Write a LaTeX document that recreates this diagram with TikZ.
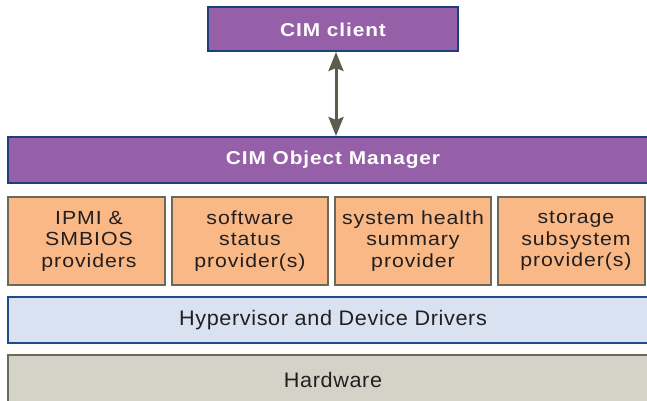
\documentclass[tikz,border=0pt]{standalone}
\usepackage{fontspec}
\setmainfont{Liberation Sans}
\newfontfamily\widesans[FakeStretch=1.12,LetterSpace=5]{Liberation Sans}
\newfontfamily\layersans[FakeStretch=1.03,LetterSpace=3]{Liberation Sans}
\usetikzlibrary{arrows.meta}
\definecolor{cimfill}{HTML}{9560A8}
\definecolor{cimedge}{HTML}{1D3F7A}
\definecolor{provfill}{HTML}{F9B886}
\definecolor{provedge}{HTML}{6A6A58}
\definecolor{hypfill}{HTML}{D9E2F1}
\definecolor{hypedge}{HTML}{1F4C88}
\definecolor{hwfill}{HTML}{D3D3C7}
\definecolor{hwedge}{HTML}{6A6A58}
\definecolor{arrowcol}{HTML}{5C5D4C}
\definecolor{textcol}{HTML}{231F20}
\begin{document}
\begin{tikzpicture}[x=1pt,y=-1pt,
  cimbox/.style={draw=cimedge,fill=cimfill,line width=1.8pt},
  cimtext/.style={text=white,font=\widesans\fontsize{18.6}{21}\selectfont\bfseries},
  provbox/.style={draw=provedge,fill=provfill,line width=1.8pt},
  provtext/.style={text=textcol,align=center,font=\widesans\fontsize{19}{21.5}\selectfont},
  hypbox/.style={draw=hypedge,fill=hypfill,line width=1.8pt},
  hwbox/.style={draw=hwedge,fill=hwfill,line width=1.8pt},
  layertext/.style={text=textcol,font=\layersans\fontsize{21}{24}\selectfont},
  link/.style={draw=arrowcol,line width=3pt,{Stealth[length=19pt,width=15pt,inset=3pt]}-{Stealth[length=19pt,width=15pt,inset=3pt]}}]
\useasboundingbox (0,0) rectangle (647,400);
% client and object manager
\draw[cimbox] (208,7) rectangle (458,51);
\node[cimtext] (client) at (333,29.5) {CIM client};
\coordinate (clientS) at (336,52);
\draw[cimbox] (8,137) rectangle (660,183);
\node[cimtext] (manager) at (333,159.5) {CIM Object Manager};
\coordinate (managerN) at (336,136);
% providers
\draw[provbox] (8,197) rectangle (165,285);
\node[provtext] (p1) at (89,241) {IPMI \&\\SMBIOS\\providers};
\draw[provbox] (172,197) rectangle (328,285);
\node[provtext] (p2) at (250,241) {software\\status\\provider(s)};
\draw[provbox] (335,197) rectangle (491,285);
\node[provtext] (p3) at (413,241) {system health\\summary\\provider};
\draw[provbox] (498,197) rectangle (645,285);
\node[provtext] (p4) at (576,241) {storage\\subsystem\\provider(s)};
% lower layers
\draw[hypbox] (8,297) rectangle (660,343);
\node[layertext] (hyp) at (333,320) {Hypervisor and Device Drivers};
\draw[hwbox] (8,355) rectangle (660,410);
\node[layertext] (hw) at (333,380) {Hardware};
% link between client and object manager
\draw[link] (clientS) -- (managerN);
\end{tikzpicture}
\end{document}
